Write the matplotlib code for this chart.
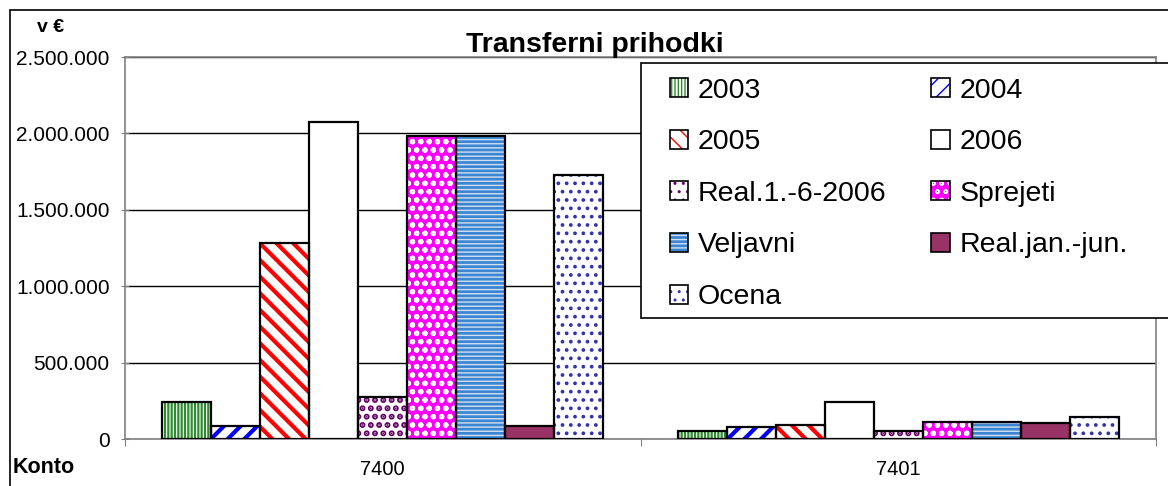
import matplotlib
matplotlib.use("Agg")
import matplotlib.pyplot as plt
from matplotlib.patches import Patch, Rectangle
from matplotlib.legend_handler import HandlerTuple
from matplotlib.ticker import FuncFormatter

plt.rcParams['font.family'] = ['Liberation Sans', 'DejaVu Sans']

# Data
categories = ["7400", "7401"]
series = ["2003", "2004", "2005", "2006", "Real.1.-6-2006",
          "Sprejeti", "Veljavni", "Real.jan.-jun.", "Ocena"]
values_7400 = [242000, 87000, 1280000, 2072000, 276000, 1982000, 1982000, 87000, 1727000]
values_7401 = [52000, 76000, 91000, 244000, 52000, 113000, 113000, 102000, 141000]

# style per series: face colour, hatch, hatch colour, hatch width
styles = [
    ("white", "|||||", "#2e8b2e", 1.6),
    ("white", "//", "#0000ff", 3.0),
    ("white", "\\\\", "#ff0000", 3.0),
    ("white", "", "white", 1.0),
    ("white", "..", "#660066", 3.0),
    ("#ff00ff", "oo", "white", 1.5),
    ("#3d85d0", "----", "#cfe2f5", 1.0),
    ("#993366", "", "#993366", 1.0),
    ("white", "..", "#3333aa", 1.5),
]

W, H = 1168, 486
fig = plt.figure(figsize=(W / 100, H / 100), dpi=100)
ax = fig.add_axes([125 / W, 1 - 439 / H, (1156 - 125) / W, (439 - 57) / H])

n = len(series)
group = 0.856
bw = group / n
x = range(len(categories))
handles = []
for i, name in enumerate(series):
    fc, hatch, hc, hlw = styles[i]
    vals = [values_7400[i], values_7401[i]]
    pos = [c - group / 2 + bw * (i + 0.5) for c in x]
    bars = ax.bar(pos, vals, width=bw, color=fc, edgecolor=hc, hatch=hatch,
                  linewidth=0, zorder=3)
    for b in bars:
        if hasattr(b, "set_hatch_linewidth"):
            b.set_hatch_linewidth(hlw)
    ax.bar(pos, vals, width=bw, fill=False, edgecolor="black", linewidth=1.6, zorder=4)
    p1 = Patch(facecolor=fc, edgecolor=hc, hatch=hatch, linewidth=0)
    if hasattr(p1, "set_hatch_linewidth"):
        p1.set_hatch_linewidth(hlw)
    p2 = Patch(fill=False, edgecolor="black", linewidth=1.2)
    handles.append((p1, p2))

ax.set_xlim(-0.5, 1.5)
ax.set_ylim(0, 2500000)
ax.set_yticks([0, 500000, 1000000, 1500000, 2000000, 2500000])
ax.yaxis.set_major_formatter(FuncFormatter(lambda v, p: f"{int(v):,}".replace(",", ".")))
ax.grid(axis="y", color="black", linewidth=1.0, zorder=1)
ax.set_axisbelow(True)
for s in ax.spines.values():
    s.set_color("#808080")
    s.set_linewidth(1.2)

ax.set_xticks([-0.5, 0.5, 1.5])
ax.set_xticklabels([])
ax.set_xticks(list(x), minor=True)
ax.set_xticklabels(categories, minor=True)
ax.tick_params(axis="x", which="major", direction="out", length=5, color="#808080")
ax.tick_params(axis="x", which="minor", length=0, pad=15, labelsize=14.5)
ax.tick_params(axis="y", direction="inout", length=6, color="#808080", pad=8, labelsize=15)

# Figure border
fig.patches.append(Rectangle((10 / W, -0.05), 1.1, 1 - 10 / H + 0.05,
                             transform=fig.transFigure, fill=False,
                             edgecolor="black", linewidth=1.2, zorder=0))

fig.text(595 / W, 1 - 45 / H, "Transferni prihodki", ha="center", va="center",
         fontsize=20.5, fontweight="bold")
fig.text(51 / W, 1 - 27 / H, "v €", ha="center", va="center",
         fontsize=14, fontweight="bold")
fig.text(13 / W, 1 - 467 / H, "Konto", ha="left", va="center",
         fontsize=15.5, fontweight="bold")

# Legend box (runs off the right edge), filled row by row
fig.patches.append(Rectangle((641 / W, 1 - 318 / H), 0.6, (318 - 63) / H,
                             transform=fig.transFigure, facecolor="white",
                             edgecolor="black", linewidth=1.2, zorder=5))
order = [0, 2, 4, 6, 8, 1, 3, 5, 7]
leg = fig.legend([handles[k] for k in order], [series[k] for k in order],
                 loc="upper left", bbox_to_anchor=(644 / W, 1 - 52 / H),
                 ncol=2, frameon=False, fontsize=20.5, handlelength=0.65,
                 handleheight=0.65, handletextpad=0.35, labelspacing=0.9,
                 columnspacing=1.57, handler_map={tuple: HandlerTuple(ndivide=1)})
leg.set_zorder(6)

fig.savefig("out.png", dpi=100)
